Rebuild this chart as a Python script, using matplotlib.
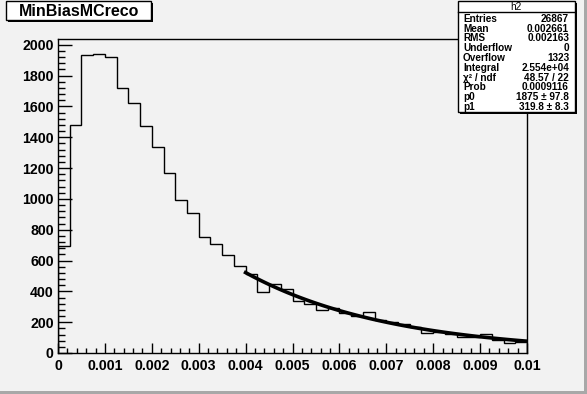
import numpy as np
import matplotlib.pyplot as plt
from matplotlib.patches import Rectangle
from matplotlib.ticker import MultipleLocator

# histogram contents, 40 bins of 0.00025 from 0 to 0.01
bin_edges = np.linspace(0, 0.01, 41)
counts = [696, 1482, 1934, 1938, 1917, 1718, 1620, 1471, 1335, 1166,
          991, 907, 755, 705, 634, 563, 511, 398, 446, 413,
          337, 320, 279, 290, 258, 240, 264, 214, 203, 190,
          171, 128, 137, 124, 102, 106, 121, 85, 63, 69]

# fit p0*exp(-p1*x) over 0.004 - 0.01
p0 = 1875
p1 = 319.8
fit_lo, fit_hi = 0.004, 0.01

stats_names = ["Entries", "Mean", "RMS", "Underflow", "Overflow", "Integral",
               "χ² / ndf", "Prob", "p0", "p1"]
stats_vals = ["26867", "0.002661", "0.002163", "0", "1323", "2.554e+04",
              "48.57 / 22", "0.0009116", "1875 ± 97.8", "319.8 ± 8.3"]

W, H = 587, 394
bg = "#f2f2f2"
plt.rcParams['font.family'] = ['Liberation Sans', 'DejaVu Sans']

fig = plt.figure(figsize=(W / 100, H / 100), dpi=100, facecolor=bg)

def px(x0, y0, x1, y1):
    # pixel box (top-left origin) -> figure rect
    return [x0 / W, 1 - y1 / H, (x1 - x0) / W, (y1 - y0) / H]

ax = fig.add_axes(px(58, 39, 527, 353))
ax.set_facecolor(bg)
ax.stairs(counts, bin_edges, color="black", lw=1)

xf = np.linspace(fit_lo, fit_hi, 100)
ax.plot(xf, p0 * np.exp(-p1 * xf), color="black", lw=2.6)

ax.set_xlim(0, 0.01)
ax.set_ylim(0, 2037)
ax.xaxis.set_minor_locator(MultipleLocator(0.0002))
ax.yaxis.set_major_locator(MultipleLocator(200))
ax.yaxis.set_minor_locator(MultipleLocator(40))
ax.set_xticks(np.arange(0, 0.0101, 0.001))
ax.set_xticklabels(["0", "0.001", "0.002", "0.003", "0.004", "0.005",
                    "0.006", "0.007", "0.008", "0.009", "0.01"])
ax.tick_params(axis="x", which="major", direction="in", length=7, width=1, pad=4)
ax.tick_params(axis="x", which="minor", direction="in", length=3.6, width=1)
ax.tick_params(axis="y", which="major", direction="in", length=10, width=1, pad=3)
ax.tick_params(axis="y", which="minor", direction="in", length=5, width=1)
for lab in ax.get_xticklabels() + ax.get_yticklabels():
    lab.set_fontweight("bold")
    lab.set_fontsize(10.2)
for s in ax.spines.values():
    s.set_linewidth(1)

# canvas bevel on right and bottom
fig.add_artist(Rectangle((0, 0), 1, 3 / H, transform=fig.transFigure,
                         color="#a8a8a8", lw=0))
fig.add_artist(Rectangle((1 - 3 / W, 0), 3 / W, 1, transform=fig.transFigure,
                         color="#a8a8a8", lw=0))

def boxed(x0, y0, x1, y1):
    r = px(x0, y0, x1, y1)
    fig.add_artist(Rectangle((r[0] + 2 / W, r[1] - 2 / H), r[2], r[3],
                             transform=fig.transFigure, color="black", lw=0))
    fig.add_artist(Rectangle((r[0], r[1]), r[2], r[3], transform=fig.transFigure,
                             facecolor="white", edgecolor="black", lw=1))

# title box
boxed(6, 1, 151, 20)
fig.text(79 / W, 1 - 11 / H, "MinBiasMCreco", ha="center", va="center",
         fontsize=11.5, fontweight="bold")

# stats box
boxed(458, 1, 575, 112)
fig.add_artist(plt.Line2D([458 / W, 575 / W], [1 - 12 / H, 1 - 12 / H],
                          transform=fig.transFigure, color="black", lw=1))
fig.text(516 / W, 1 - 6.5 / H, "h2", ha="center", va="center", fontsize=7.2)
for i, (n, v) in enumerate(zip(stats_names, stats_vals)):
    y = 1 - (18.8 + i * 9.8) / H
    fig.text(463 / W, y, n, ha="left", va="center", fontsize=7.2, fontweight="bold")
    fig.text(569 / W, y, v, ha="right", va="center", fontsize=7.2, fontweight="bold")

fig.savefig("out.png", dpi=100, facecolor=bg)
